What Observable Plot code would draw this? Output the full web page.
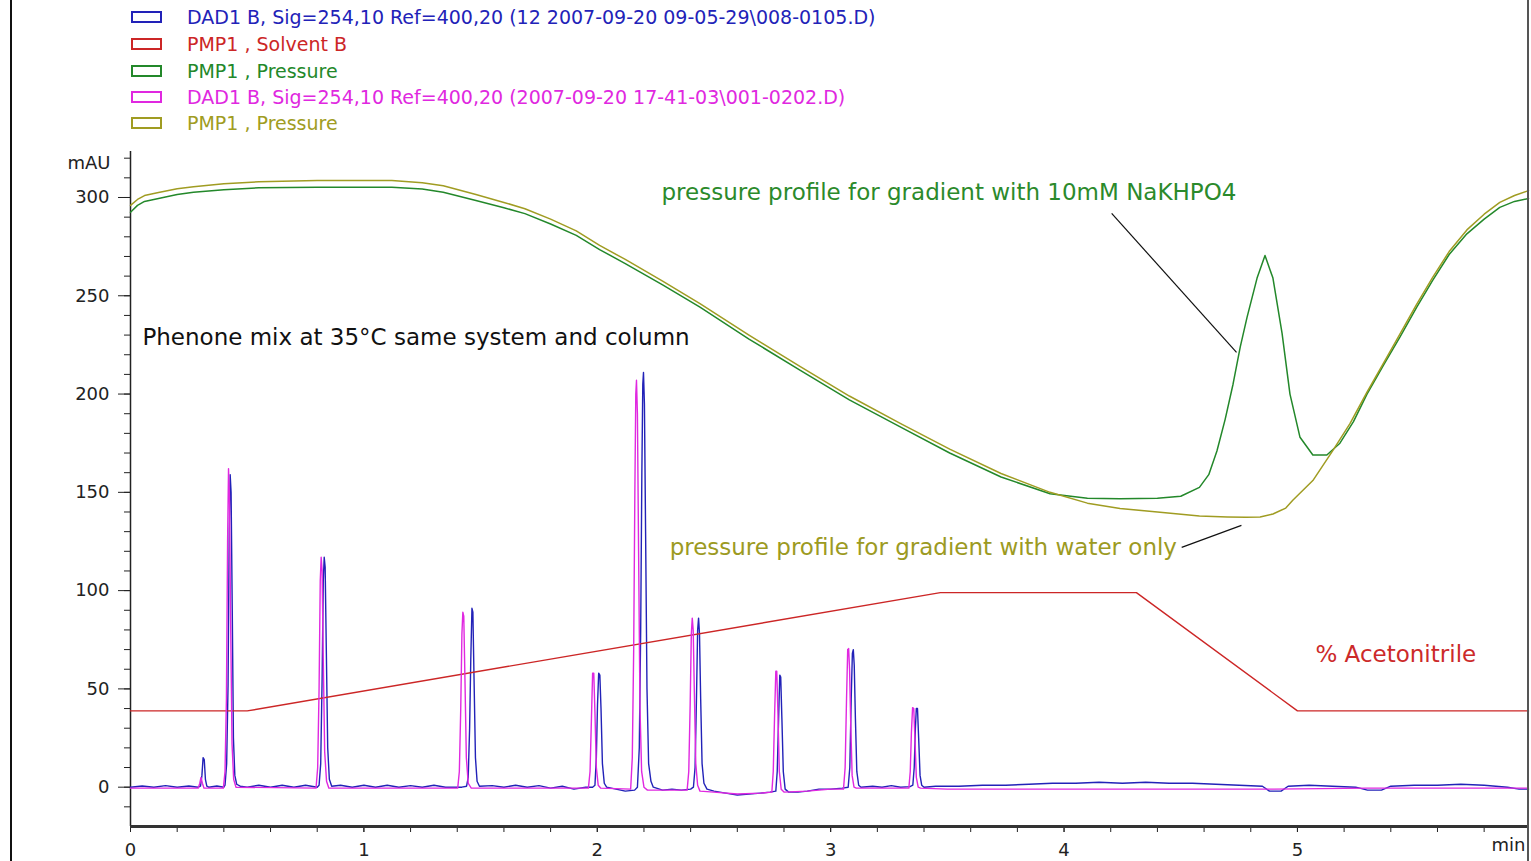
<!DOCTYPE html>
<html>
<head>
<meta charset="utf-8">
<script src="https://cdn.jsdelivr.net/npm/d3@7"></script>
<script src="https://cdn.jsdelivr.net/npm/@observablehq/plot@0.6"></script>
<style>
  html, body { margin: 0; padding: 0; background: #fff; }
  #page { position: relative; width: 1531px; height: 861px; overflow: hidden; font-family: "DejaVu Sans", sans-serif; }
  #legend .row { position: absolute; left: 0; height: 26px; width: 1000px; white-space: nowrap; font-size: 19px; line-height: 26px; }
  #legend .box { position: absolute; left: 131px; top: 7px; width: 27px; height: 8px; border: 2px solid; }
  #legend .lab { position: absolute; left: 187px; top: 0; }
  #chart { position: absolute; left: 0; top: 140px; }
  .edge { position: absolute; top: 0; height: 861px; }
</style>
</head>
<body>
<div id="page">
  <div id="legend"></div>
  <div id="chart"></div>
  <div class="edge" style="left:10px;width:2px;background:#111"></div>
  <div class="edge" style="left:1527px;width:2px;background:#555"></div>
</div>
<script>
// ---- data: retention time (min) and detector / pump readings (mAU scale) ----

// DAD1 B signal, run 008-0105 (blue)
const dadRunA = [
  [0.00, 0], [0.05, 0.6], [0.10, 0], [0.15, 0.8], [0.20, 0], [0.25, 0.6], [0.29, 0],
  [0.300, 0.5], [0.306, 6], [0.311, 15], [0.316, 14], [0.321, 4], [0.327, 0.5], [0.335, 0],
  [0.37, 0.6], [0.40, 0],
  [0.405, 1], [0.412, 12], [0.418, 52], [0.423, 130], [0.427, 159], [0.431, 150], [0.436, 90], [0.441, 25], [0.447, 6], [0.455, 1.5], [0.47, 0.5],
  [0.50, 0], [0.55, 1], [0.60, 0], [0.65, 1], [0.70, 0], [0.75, 1], [0.80, 0],
  [0.808, 1], [0.815, 12], [0.821, 55], [0.826, 105], [0.830, 117], [0.834, 112], [0.839, 70], [0.845, 20], [0.852, 4], [0.862, 0.5],
  [0.90, 1], [0.95, 0], [1.00, 1], [1.05, 0], [1.10, 1], [1.15, 0], [1.20, 0.8], [1.25, 0], [1.30, 1], [1.35, 0], [1.42, 0],
  [1.440, 0.5], [1.447, 5], [1.453, 30], [1.458, 65], [1.463, 91], [1.467, 89], [1.472, 55], [1.478, 15], [1.485, 3], [1.495, 0.5],
  [1.55, 0.8], [1.60, 0], [1.65, 1], [1.70, 0], [1.75, 0.8], [1.80, -0.5], [1.85, 0.5], [1.90, -1], [1.95, 0], [1.98, 0],
  [1.990, 1], [1.996, 15], [2.001, 42], [2.006, 58], [2.011, 57], [2.016, 40], [2.022, 12], [2.030, 2], [2.04, 0],
  [2.08, -1], [2.12, -2], [2.16, -1.5],
  [2.172, 0], [2.180, 20], [2.186, 80], [2.191, 160], [2.195, 205], [2.198, 211], [2.202, 195], [2.207, 130], [2.213, 50], [2.220, 12], [2.230, 3], [2.24, 0],
  [2.28, -1.5], [2.32, -1], [2.36, -1.5], [2.40, -1],
  [2.412, 0], [2.419, 10], [2.425, 45], [2.430, 80], [2.434, 86], [2.438, 78], [2.443, 45], [2.449, 12], [2.457, 2], [2.47, -1],
  [2.50, -2], [2.55, -3], [2.60, -4], [2.65, -3.5], [2.70, -3], [2.74, -2.5],
  [2.765, -2], [2.771, 8], [2.777, 35], [2.782, 57], [2.786, 56], [2.791, 35], [2.797, 8], [2.805, -1], [2.82, -2.5],
  [2.86, -2.5], [2.90, -2], [2.95, -1], [3.00, -1], [3.05, -0.5],
  [3.075, 0], [3.082, 10], [3.088, 45], [3.093, 68], [3.097, 70], [3.101, 62], [3.106, 35], [3.112, 8], [3.120, 1], [3.13, 0],
  [3.18, 0.5], [3.22, 0], [3.26, 0.8], [3.30, 0], [3.34, 0.3],
  [3.352, 1], [3.358, 10], [3.363, 30], [3.367, 40], [3.372, 40], [3.377, 25], [3.383, 6], [3.39, 1], [3.40, 0],
  [3.45, 0.5], [3.55, 0.5], [3.65, 1], [3.75, 1], [3.85, 1.5], [3.95, 2], [4.05, 2], [4.15, 2.5], [4.25, 2], [4.35, 2.5],
  [4.45, 2], [4.55, 2], [4.65, 1.5], [4.75, 1], [4.85, 0.5], [4.88, -2], [4.93, -2], [4.96, 0.5], [5.05, 1], [5.15, 0.5],
  [5.25, 0], [5.30, -1.5], [5.36, -1.5], [5.40, 0.5], [5.50, 1], [5.60, 1], [5.70, 1.5], [5.80, 1], [5.90, 0], [5.95, -1], [5.99, -1]
];

// DAD1 B signal, run 001-0202 (magenta)
const dadRunB = [
  [0.00, -0.5], [0.29, -0.5],
  [0.297, 2], [0.302, 5], [0.308, 2], [0.315, -0.5], [0.398, -0.5],
  [0.405, 8], [0.411, 45], [0.416, 125], [0.420, 162], [0.424, 148], [0.429, 85], [0.435, 22], [0.442, 4], [0.452, 0],
  [0.795, -0.5],
  [0.802, 10], [0.808, 50], [0.813, 105], [0.817, 117], [0.821, 110], [0.826, 65], [0.832, 18], [0.840, 3], [0.85, -0.5],
  [1.402, -0.5],
  [1.409, 8], [1.415, 40], [1.420, 78], [1.424, 89], [1.428, 87], [1.433, 55], [1.439, 15], [1.447, 2], [1.46, -0.5],
  [1.962, -0.5],
  [1.969, 8], [1.975, 35], [1.980, 58], [1.985, 58], [1.990, 38], [1.996, 10], [2.004, 1], [2.015, -0.5],
  [2.143, -1],
  [2.150, 15], [2.156, 70], [2.161, 150], [2.165, 200], [2.168, 207], [2.172, 190], [2.177, 120], [2.183, 40], [2.190, 8], [2.20, 0], [2.215, -1.5],
  [2.385, -1.5],
  [2.392, 8], [2.398, 42], [2.403, 78], [2.407, 86], [2.411, 80], [2.416, 48], [2.422, 12], [2.430, 1], [2.44, -2],
  [2.50, -2.5], [2.60, -3.5], [2.70, -3], [2.748, -2.5],
  [2.754, 8], [2.760, 38], [2.765, 59], [2.769, 59], [2.774, 38], [2.780, 8], [2.788, -1], [2.80, -2.5],
  [2.90, -2], [3.00, -1], [3.055, -1],
  [3.062, 10], [3.068, 45], [3.073, 70], [3.077, 70.5], [3.081, 60], [3.086, 32], [3.092, 6], [3.10, 0], [3.11, -0.5],
  [3.335, -0.5],
  [3.341, 8], [3.346, 28], [3.351, 40.5], [3.356, 40], [3.361, 25], [3.367, 5], [3.375, 0], [3.385, -0.5],
  [3.50, -1], [4.00, -1], [4.50, -1], [4.90, -1], [5.30, -0.5], [5.99, -0.5]
];

// PMP1 pressure, gradient with 10mM NaKHPO4 (green)
const pressureBuffer = [
  [0.00, 292.5], [0.03, 296], [0.06, 298], [0.12, 299.5], [0.20, 301.5], [0.27, 302.7], [0.40, 304], [0.55, 304.9],
  [0.80, 305.2], [1.12, 305.2], [1.25, 304.3], [1.34, 302.7], [1.48, 298.5], [1.60, 294.8], [1.69, 291.8], [1.80, 286.5],
  [1.91, 280.7], [2.01, 273.5], [2.12, 266.4], [2.28, 255.5], [2.44, 244.2], [2.65, 228], [2.87, 212], [3.08, 197],
  [3.30, 183.2], [3.51, 170], [3.73, 157.8], [3.94, 149.3], [4.10, 147], [4.24, 146.7], [4.40, 147], [4.50, 148],
  [4.58, 152.5], [4.62, 159], [4.655, 171], [4.69, 187], [4.724, 205], [4.755, 224], [4.784, 239], [4.827, 259],
  [4.861, 270.5], [4.895, 259], [4.934, 231], [4.968, 200], [5.011, 178], [5.066, 169], [5.126, 169], [5.182, 175],
  [5.24, 186], [5.298, 200], [5.37, 215], [5.439, 229], [5.51, 244], [5.58, 258], [5.65, 271], [5.726, 281.5],
  [5.80, 289], [5.867, 295], [5.93, 298], [5.99, 299.5]
];

// PMP1 pressure, gradient with water only (olive)
const pressureWater = [
  [0.00, 296], [0.03, 299], [0.06, 301], [0.12, 302.5], [0.20, 304.5], [0.27, 305.5], [0.40, 307], [0.55, 308],
  [0.80, 308.6], [1.12, 308.6], [1.25, 307.5], [1.34, 306], [1.48, 301.5], [1.60, 297.5], [1.69, 294.3], [1.80, 289],
  [1.91, 283], [2.01, 275.6], [2.12, 268.5], [2.28, 257.5], [2.44, 246], [2.65, 230], [2.87, 214], [3.08, 199],
  [3.30, 185], [3.51, 172], [3.73, 159.6], [3.94, 150], [4.10, 144.5], [4.24, 141.8], [4.40, 140], [4.58, 138],
  [4.70, 137.5], [4.78, 137.3], [4.84, 137.5], [4.895, 139], [4.95, 142], [4.98, 146], [5.066, 156], [5.15, 171],
  [5.225, 185], [5.298, 201], [5.37, 216], [5.439, 230.5], [5.51, 245.5], [5.58, 259.5], [5.65, 272.5], [5.726, 283.5],
  [5.80, 291.5], [5.867, 297.5], [5.93, 301], [5.99, 303.5]
];

// PMP1 solvent B program (% acetonitrile trace)
const solventB = [[0, 38.8], [0.5, 38.8], [3.47, 99], [4.31, 99], [5.0, 38.8], [5.99, 38.8]];

const legendLabels = [
  "DAD1 B, Sig=254,10 Ref=400,20 (12 2007-09-20 09-05-29\\008-0105.D)",
  "PMP1 , Solvent B",
  "PMP1 , Pressure",
  "DAD1 B, Sig=254,10 Ref=400,20 (2007-09-20 17-41-03\\001-0202.D)",
  "PMP1 , Pressure"
];

const noteLabels = [
  "pressure profile for gradient with 10mM NaKHPO4",
  "Phenone mix at 35°C same system and column",
  "pressure profile for gradient with water only",
  "% Acetonitrile"
];

const xTickValues = [0, 1, 2, 3, 4, 5];
const yTickValues = [0, 50, 100, 150, 200, 250, 300];
const yUnit = "mAU";
const xUnit = "min";

// ---- styling ----
const BLUE = "#2222b8", RED = "#cc2626", GREEN = "#23882a", MAGENTA = "#e028e0", OLIVE = "#a09c22";
const legendColors = [BLUE, RED, GREEN, MAGENTA, OLIVE];
const legendCenters = [17, 44, 71, 97, 123];

const legend = document.getElementById("legend");
legendLabels.forEach((label, i) => {
  const row = document.createElement("div");
  row.className = "row";
  row.style.top = (legendCenters[i] - 13) + "px";
  row.style.color = legendColors[i];
  const box = document.createElement("span");
  box.className = "box";
  box.style.borderColor = legendColors[i];
  const lab = document.createElement("span");
  lab.className = "lab";
  lab.textContent = label;
  row.append(box, lab);
  legend.append(row);
});

const xy = {x: d => d[0], y: d => d[1]};
const font = "DejaVu Sans";

const chart = Plot.plot({
  width: 1531,
  height: 721,
  marginLeft: 130,
  marginRight: 3,
  marginTop: 11,
  marginBottom: 35,
  x: {domain: [0, 5.99]},
  y: {domain: [-20, 323.4]},
  style: {fontFamily: font, background: "transparent", color: "#222"},
  marks: [
    // axes
    Plot.axisY(d3.range(-10, 321, 10), {tickSize: 6, text: null, stroke: "#222"}),
    Plot.axisY(yTickValues, {tickSize: 12, tickPadding: 9, fontSize: 18, stroke: "#222", label: null}),
    Plot.axisX(d3.range(0, 5.99, 0.2), {tickSize: 6, text: null, stroke: "#222"}),
    Plot.axisX(xTickValues, {tickSize: 6, tickPadding: 11, fontSize: 18, stroke: "#222", label: null, tickFormat: d3.format("d")}),
    Plot.ruleX([0], {stroke: "#222", strokeWidth: 1.5}),
    Plot.ruleY([-20], {stroke: "#333", strokeWidth: 3}),
    Plot.text([yUnit], {frameAnchor: "top-left", dx: -20, dy: 5, textAnchor: "end", fontSize: 18, fill: "#222"}),
    Plot.text([xUnit], {frameAnchor: "bottom-right", dx: -3, dy: 24, textAnchor: "end", fontSize: 18, fill: "#222"}),

    // traces, in legend order
    Plot.line(dadRunA, {...xy, stroke: BLUE, strokeWidth: 1.4}),
    Plot.line(solventB, {...xy, stroke: RED, strokeWidth: 1.4}),
    Plot.line(pressureBuffer, {...xy, stroke: GREEN, strokeWidth: 1.5}),
    Plot.line(dadRunB, {...xy, stroke: MAGENTA, strokeWidth: 1.4}),
    Plot.line(pressureWater, {...xy, stroke: OLIVE, strokeWidth: 1.5}),

    // annotations and leader lines
    Plot.text([noteLabels[0]], {x: 2.275, y: 302.5, textAnchor: "start", fontSize: 23, fill: "#2b8a2b"}),
    Plot.text([noteLabels[1]], {x: 0.051, y: 228.8, textAnchor: "start", fontSize: 23, fill: "#111"}),
    Plot.text([noteLabels[2]], {x: 2.31, y: 122, textAnchor: "start", fontSize: 23, fill: "#9c9a22"}),
    Plot.text([noteLabels[3]], {x: 5.077, y: 67.6, textAnchor: "start", fontSize: 23, fill: "#cc2a2a"}),
    Plot.link([0], {x1: 4.204, y1: 291.9, x2: 4.739, y2: 221.2, stroke: "#111", strokeWidth: 1.2}),
    Plot.link([0], {x1: 4.504, y1: 122, x2: 4.76, y2: 133.2, stroke: "#111", strokeWidth: 1.2})
  ]
});
document.getElementById("chart").append(chart);
</script>
</body>
</html>
